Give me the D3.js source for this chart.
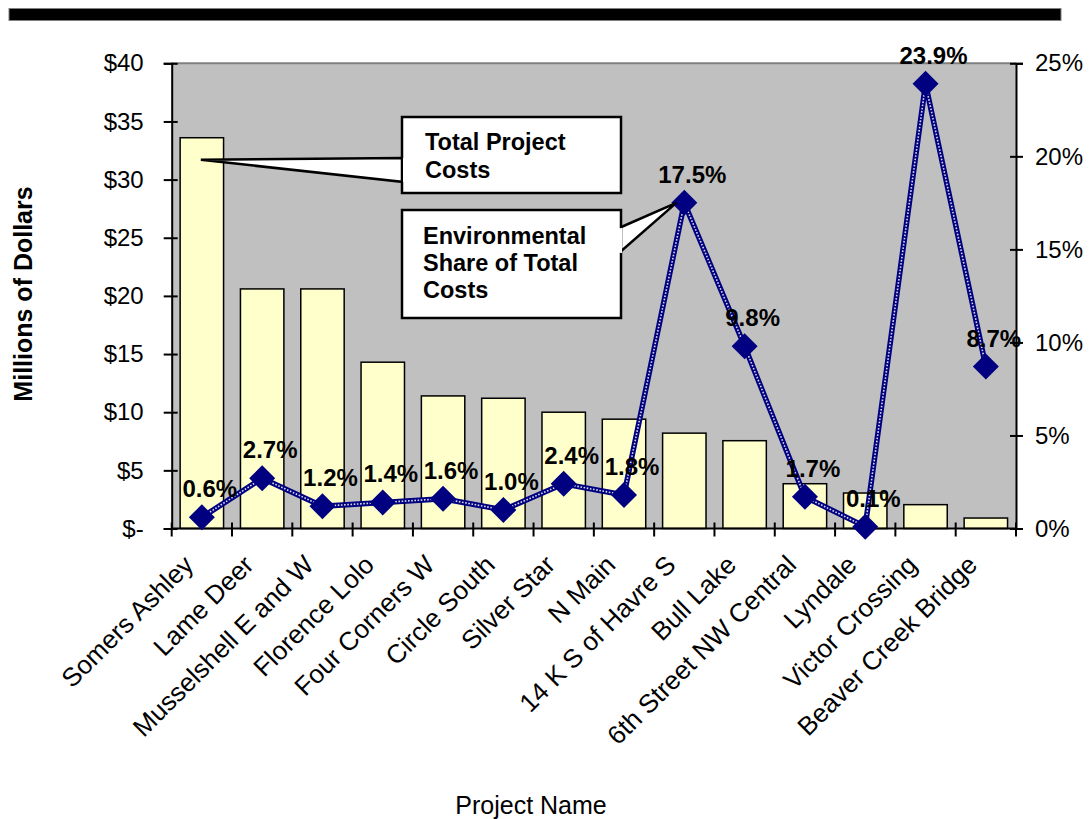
<!DOCTYPE html>
<html>
<head>
<meta charset="utf-8">
<script src="https://cdn.jsdelivr.net/npm/d3@7"></script>
<style>
  html, body { margin: 0; padding: 0; background: #ffffff; }
  svg { display: block; font-family: "Liberation Sans", Arial, sans-serif; }
</style>
</head>
<body>
<svg id="chart" width="1092" height="819"></svg>
<script>
// ---- data ----
const categories = ["Somers Ashley", "Lame Deer", "Musselshell E and W", "Florence Lolo",
  "Four Corners W", "Circle South", "Silver Star", "N Main", "14 K S of Havre S",
  "Bull Lake", "6th Street NW Central", "Lyndale", "Victor Crossing", "Beaver Creek Bridge"];
const totalCosts = [33.6, 20.6, 20.6, 14.3, 11.4, 11.2, 10.0, 9.4, 8.2, 7.55, 3.85, 3.05, 2.05, 0.9];
const envShare = [0.6, 2.7, 1.2, 1.4, 1.6, 1.0, 2.4, 1.8, 17.5, 9.8, 1.7, 0.1, 23.9, 8.7];
const leftTicks = [0, 5, 10, 15, 20, 25, 30, 35, 40];
const rightTicks = [0, 5, 10, 15, 20, 25];
const yTitle = "Millions of Dollars";
const xTitle = "Project Name";
const callout1 = ["Total Project", "Costs"];
const callout2 = ["Environmental", "Share of Total", "Costs"];

// ---- layout ----
const svg = d3.select("#chart");
const L = 171.7, R = 1016, T = 63.3, B = 528.5;

const x = d3.scaleBand().domain(categories).range([L, R]).paddingInner(0.28).paddingOuter(0.14);
const yL = d3.scaleLinear().domain([0, 40]).range([B, T]);
const yR = d3.scaleLinear().domain([0, 25]).range([B, T]);
const cx = d => x(d) + x.bandwidth() / 2;

// top black bar
svg.append("rect").attr("x", 9).attr("y", 8.5).attr("width", 1052).attr("height", 12)
  .attr("fill", "#000").attr("stroke", "#808080").attr("stroke-width", 1);

// plot area
svg.append("rect").attr("x", L).attr("y", T).attr("width", R - L).attr("height", B - T)
  .attr("fill", "#C0C0C0");
svg.append("line").attr("x1", L).attr("x2", R).attr("y1", T).attr("y2", T)
  .attr("stroke", "#808080").attr("stroke-width", 2);

// bars
svg.append("g").selectAll("rect").data(categories).join("rect")
  .attr("x", d => x(d))
  .attr("y", (d, i) => yL(totalCosts[i]))
  .attr("width", x.bandwidth())
  .attr("height", (d, i) => B - yL(totalCosts[i]))
  .attr("fill", "#FFFFCC").attr("stroke", "#000").attr("stroke-width", 1.5);

// axes
const fmtL = v => v === 0 ? "$-" : "$" + v;
const gL = svg.append("g").attr("transform", `translate(${L},0)`)
  .call(d3.axisLeft(yL).tickValues(leftTicks).tickFormat(fmtL).tickSize(8).tickPadding(20));
const gR = svg.append("g").attr("transform", `translate(${R},0)`)
  .call(d3.axisRight(yR).tickValues(rightTicks).tickFormat(v => v + "%").tickSize(7).tickPadding(12));
[gL, gR].forEach(g => {
  g.select(".domain").attr("stroke", "#000").attr("stroke-width", 2);
  g.selectAll(".tick line").attr("stroke", "#000").attr("stroke-width", 2);
  g.selectAll(".tick text").attr("font-size", 24).attr("fill", "#000")
    .attr("font-family", "'Liberation Sans', Arial, sans-serif");
});
// cross ticks
gL.selectAll(".tick line").attr("x1", 6);
gR.selectAll(".tick line").attr("x1", -6);

// x axis
svg.append("line").attr("x1", L).attr("x2", R).attr("y1", B).attr("y2", B)
  .attr("stroke", "#000").attr("stroke-width", 2);
const boundaries = d3.range(categories.length + 1).map(i => L + i * x.step());
svg.append("g").selectAll("line").data(boundaries).join("line")
  .attr("x1", d => d).attr("x2", d => d).attr("y1", B - 6).attr("y2", B + 8)
  .attr("stroke", "#000").attr("stroke-width", 2);

// x tick labels
svg.append("g").selectAll("text").data(categories).join("text")
  .attr("transform", d => `translate(${cx(d) - 7},${B + 38}) rotate(-45)`)
  .attr("text-anchor", "end")
  .attr("font-size", 26).attr("fill", "#000")
  .text(d => d);

// line series
const pts = categories.map((c, i) => [cx(c), yR(envShare[i])]);
const line = d3.line();
svg.append("path").attr("d", line(pts)).attr("fill", "none")
  .attr("stroke", "#000080").attr("stroke-width", 5.5).attr("stroke-linejoin", "round");
svg.append("path").attr("d", line(pts)).attr("fill", "none")
  .attr("stroke", "#ffffff").attr("stroke-width", 1.6).attr("stroke-dasharray", "1.6,1.6")
  .attr("opacity", 0.85);

// markers
svg.append("g").selectAll("path").data(pts).join("path")
  .attr("d", d => `M${d[0]},${d[1] - 13}L${d[0] + 13},${d[1]}L${d[0]},${d[1] + 13}L${d[0] - 13},${d[1]}Z`)
  .attr("fill", "#000080");

// data labels
svg.append("g").selectAll("text").data(pts).join("text")
  .attr("x", d => d[0] + 8).attr("y", d => d[1] - 20)
  .attr("text-anchor", "middle")
  .attr("font-size", 24).attr("font-weight", "bold").attr("fill", "#000")
  .text((d, i) => envShare[i].toFixed(1) + "%");

// callout 1 (Total Project Costs) pointing at first bar
const tip1 = [cx(categories[0]) - 1, yL(31.7)];
const b1 = { x: 402, y: 117, w: 219, h: 76 };
svg.append("path")
  .attr("d", `M${b1.x + 2},${158}L${tip1[0]},${tip1[1]}L${b1.x + 2},${182}Z`)
  .attr("fill", "#fff").attr("stroke", "#000").attr("stroke-width", 2.5).attr("stroke-linejoin", "miter");
svg.append("rect").attr("x", b1.x).attr("y", b1.y).attr("width", b1.w).attr("height", b1.h)
  .attr("fill", "#fff").attr("stroke", "#000").attr("stroke-width", 2.5);
svg.append("path")
  .attr("d", `M${b1.x + 1},${158}L${b1.x + 4},${158.5}L${b1.x + 4},${181.5}L${b1.x + 1},${182}Z`)
  .attr("fill", "#fff");
svg.append("g").selectAll("text").data(callout1).join("text")
  .attr("x", b1.x + 23).attr("y", (d, i) => 150 + i * 28)
  .attr("font-size", 23.5).attr("font-weight", "bold").attr("fill", "#000").text(d => d);

// callout 2 (Environmental share) pointing at 14 K S of Havre S marker
const tip2 = [pts[8][0] - 8, pts[8][1]];
const b2 = { x: 402, y: 210, w: 219, h: 108 };
svg.append("path")
  .attr("d", `M${b2.x + b2.w - 2},${228}L${tip2[0]},${tip2[1]}L${b2.x + b2.w - 2},${253}Z`)
  .attr("fill", "#fff").attr("stroke", "#000").attr("stroke-width", 2.5);
svg.append("rect").attr("x", b2.x).attr("y", b2.y).attr("width", b2.w).attr("height", b2.h)
  .attr("fill", "#fff").attr("stroke", "#000").attr("stroke-width", 2.5);
svg.append("path")
  .attr("d", `M${b2.x + b2.w + 1},${228}L${b2.x + b2.w - 4},${228.5}L${b2.x + b2.w - 4},${252.5}L${b2.x + b2.w + 1},${253}Z`)
  .attr("fill", "#fff");
svg.append("g").selectAll("text").data(callout2).join("text")
  .attr("x", b2.x + 21).attr("y", (d, i) => 244 + i * 27)
  .attr("font-size", 23.5).attr("font-weight", "bold").attr("fill", "#000").text(d => d);

// axis titles
svg.append("text").attr("transform", "translate(32,294) rotate(-90)")
  .attr("text-anchor", "middle").attr("font-size", 25).attr("font-weight", "bold")
  .attr("fill", "#000").text(yTitle);
svg.append("text").attr("x", 531).attr("y", 814).attr("text-anchor", "middle")
  .attr("font-size", 25).attr("fill", "#000").text(xTitle);
</script>
</body>
</html>
